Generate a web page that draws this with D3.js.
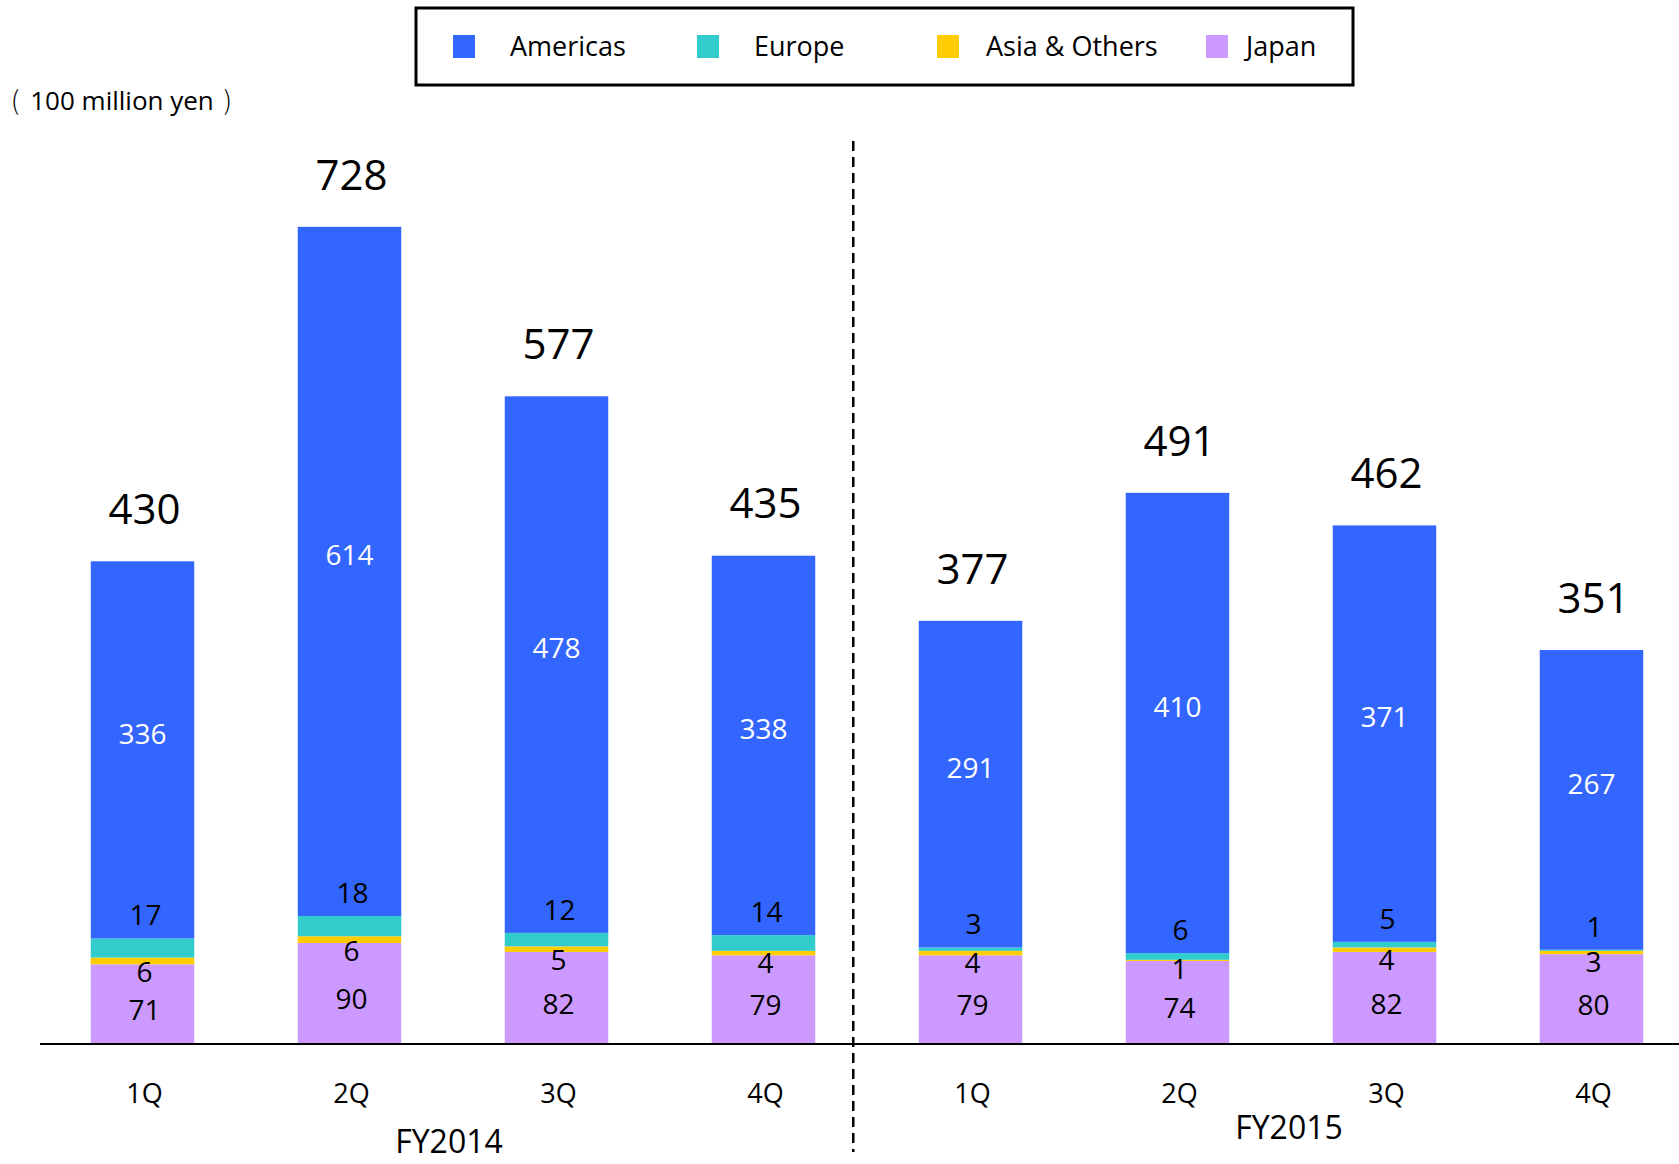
<!DOCTYPE html>
<html>
<head>
<meta charset="utf-8">
<script src="https://cdn.jsdelivr.net/npm/d3@7"></script>
<style>
  html, body { margin: 0; padding: 0; background: #fff; }
  svg { display: block; font-family: "Open Sans", "Noto Sans", sans-serif; }
</style>
</head>
<body>
<svg id="chart" width="1679" height="1164"></svg>
<script>
// Quarterly net sales by region (100 million yen)
const quarters = ["1Q", "2Q", "3Q", "4Q", "1Q", "2Q", "3Q", "4Q"];
const fiscalYears = ["FY2014", "FY2014", "FY2014", "FY2014", "FY2015", "FY2015", "FY2015", "FY2015"];
const americas = [336, 614, 478, 338, 291, 410, 371, 267];
const europe = [17, 18, 12, 14, 3, 6, 5, 1];
const asiaOthers = [6, 6, 5, 4, 4, 1, 4, 3];
const japan = [71, 90, 82, 79, 79, 74, 82, 80];
const seriesNames = ["Americas", "Europe", "Asia & Others", "Japan"];
const seriesColors = ["#3366FF", "#33CCCC", "#FFCC00", "#CC99FF"];
const fyLabels = ["FY2014", "FY2015"];

const rows = quarters.map((q, i) => ({
  id: fiscalYears[i] + "-" + q,
  quarter: q,
  fy: fiscalYears[i],
  "Japan": japan[i],
  "Asia & Others": asiaOthers[i],
  "Europe": europe[i],
  "Americas": americas[i]
}));
rows.forEach(r => { r.total = r["Japan"] + r["Asia & Others"] + r["Europe"] + r["Americas"]; });

const svg = d3.select("#chart");
const baseY = 1044;

const x = d3.scaleBand()
  .domain(rows.map(r => r.id))
  .range([39, 1695])
  .paddingInner(0.5)
  .paddingOuter(0.25);

const y = d3.scaleLinear().domain([0, 800]).range([baseY, 146]);

const color = d3.scaleOrdinal().domain(seriesNames).range(seriesColors);

// stack from the bottom: Japan, Asia & Others, Europe, Americas
const stackKeys = ["Japan", "Asia & Others", "Europe", "Americas"];
const stacked = d3.stack().keys(stackKeys)(rows);

const layers = svg.append("g").selectAll("g")
  .data(stacked)
  .join("g")
  .attr("fill", d => color(d.key));

layers.selectAll("rect")
  .data(d => d)
  .join("rect")
  .attr("x", d => x(d.data.id))
  .attr("width", x.bandwidth())
  .attr("y", d => y(d[1]))
  .attr("height", d => y(d[0]) - y(d[1]));

// segment value labels
const byKey = {};
stacked.forEach(s => { byKey[s.key] = s; });
const labels = svg.append("g")
  .attr("text-anchor", "middle")
  .attr("font-size", 28);

rows.forEach((r, i) => {
  const cx = x(r.id) + x.bandwidth() / 2;
  const am = byKey["Americas"][i];
  const eu = byKey["Europe"][i];
  const jp = byKey["Japan"][i];
  labels.append("text")
    .attr("x", cx).attr("y", (y(am[0]) + y(am[1])) / 2 - 16).attr("dy", "0.35em")
    .attr("fill", "#ffffff").text(r["Americas"]);
  labels.append("text")
    .attr("x", cx + 3).attr("y", y(eu[1]) - 23).attr("dy", "0.35em")
    .attr("fill", "#000").text(r["Europe"]);
  labels.append("text")
    .attr("x", cx + 2).attr("y", y(jp[1]) + 8).attr("dy", "0.35em")
    .attr("fill", "#000").text(r["Asia & Others"]);
  labels.append("text")
    .attr("x", cx + 2).attr("y", (y(jp[0]) + y(jp[1])) / 2 + 6).attr("dy", "0.35em")
    .attr("fill", "#000").text(r["Japan"]);
});

// totals above each bar
svg.append("g")
  .attr("text-anchor", "middle")
  .attr("font-size", 42)
  .selectAll("text")
  .data(rows)
  .join("text")
  .attr("x", d => x(d.id) + x.bandwidth() / 2 + 2)
  .attr("y", d => y(d.total) - 52)
  .attr("dy", "0.35em")
  .attr("fill", "#000")
  .text(d => d.total);

// baseline
svg.append("line")
  .attr("x1", 40).attr("x2", 1679)
  .attr("y1", baseY).attr("y2", baseY)
  .attr("stroke", "#000").attr("stroke-width", 2);

// quarter labels
const xAxis = d3.axisBottom(x).tickSize(0).tickPadding(0)
  .tickFormat((id, i) => quarters[i]);
const axisG = svg.append("g").attr("transform", `translate(2,${baseY})`).call(xAxis);
axisG.select(".domain").remove();
axisG.selectAll("text")
  .attr("font-family", "'Open Sans', sans-serif")
  .attr("font-size", 27)
  .attr("fill", "#000")
  .attr("y", 50)
  .attr("dy", "0.35em");

// fiscal year labels
const fyPos = [{ x: 449, y: 1142 }, { x: 1289, y: 1128 }];
svg.append("g").attr("text-anchor", "middle").attr("font-size", 32)
  .selectAll("text").data(fyLabels).join("text")
  .attr("x", (d, i) => fyPos[i].x)
  .attr("y", (d, i) => fyPos[i].y)
  .attr("dy", "0.35em")
  .attr("fill", "#000")
  .text(d => d);

// divider between fiscal years
const divX = x(rows[3].id) + x.bandwidth() + 38;
svg.append("line")
  .attr("x1", divX).attr("x2", divX)
  .attr("y1", 141).attr("y2", 1152)
  .attr("stroke", "#000").attr("stroke-width", 2.5)
  .attr("stroke-dasharray", "10,6");

// unit label with thin, spaced brackets
const unit = svg.append("text")
  .attr("x", 11).attr("y", 101).attr("dy", "0.35em")
  .attr("font-size", 26).attr("fill", "#000");
unit.append("tspan").attr("font-family", "'Noto Sans CJK JP', sans-serif").attr("font-weight", 300).text("(");
unit.append("tspan").attr("dx", 11).text("100 million yen");
unit.append("tspan").attr("dx", 10).attr("font-family", "'Noto Sans CJK JP', sans-serif").attr("font-weight", 300).text(")");

// legend
const legend = svg.append("g");
legend.append("rect")
  .attr("x", 416).attr("y", 8).attr("width", 937).attr("height", 77)
  .attr("fill", "#fff").attr("stroke", "#000").attr("stroke-width", 3);
const legendX = [453, 697, 937, 1206];
const items = legend.selectAll("g.item").data(seriesNames).join("g")
  .attr("class", "item")
  .attr("transform", (d, i) => `translate(${legendX[i]},35)`);
items.append("rect")
  .attr("width", 22).attr("height", 23)
  .attr("fill", d => color(d));
items.append("text")
  .attr("x", (d, i) => i === 2 ? 49 : i === 3 ? 40 : 57)
  .attr("y", 12).attr("dy", "0.35em")
  .attr("font-size", 27).attr("fill", "#000")
  .text(d => d);
</script>
</body>
</html>
